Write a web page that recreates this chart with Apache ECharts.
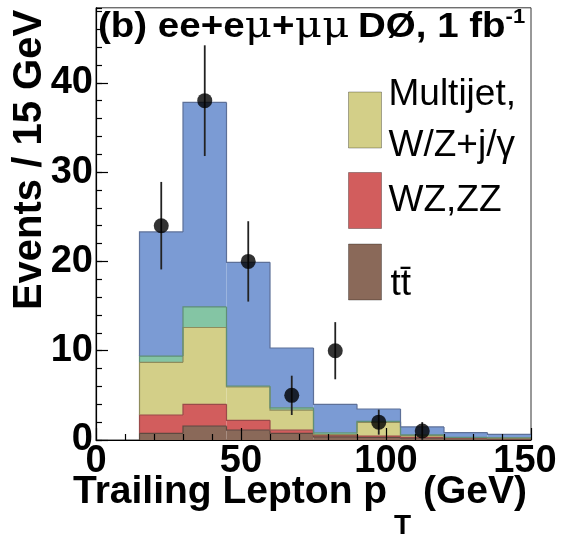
<!DOCTYPE html>
<html>
<head>
<meta charset="utf-8">
<script src="https://cdn.jsdelivr.net/npm/echarts@6/dist/echarts.min.js"></script>
<style>
  html, body { margin: 0; padding: 0; background: #fff; }
  #chart { width: 569px; height: 535px; }
</style>
</head>
<body>
<div id="chart"></div>
<script>
// Trailing lepton pT, ee+eμ+μμ combined, 15 GeV bins
const binEdges = [15, 30, 45, 60, 75, 90, 105, 120, 135, 150];

// Expected events per bin for each process, stacked bottom to top
const ttbar    = [0.75, 1.55, 1.10, 0.75, 0.35, 0.30, 0.20, 0.15, 0.10];
const wzzz     = [2.05, 2.45, 1.10, 0.35, 0.15, 0.15, 0.10, 0.05, 0.05];
const multijet = [5.90, 8.60, 3.75, 2.25, 0.10, 1.53, 0.20, 0.05, 0.05];
const zjets    = [0.70, 2.30, 0.10, 0.25, 0.20, 0.10, 0.07, 0.05, 0.05];
const ww       = [13.90, 22.90, 13.85, 6.70, 3.20, 1.39, 0.89, 0.52, 0.38];

// Observed events with their uncertainties
const dataX   = [22.5, 37.5, 52.5, 67.5, 82.5, 97.5, 112.5];
const dataN   = [24, 38, 20, 5, 10, 2, 1];
const dataErr = [4.9, 6.2, 4.5, 2.2, 3.2, 1.4, 1.0];

// Axis tick labels
const xTickLabels = [0, 50, 100, 150];
const yTickLabels = [0, 10, 20, 30, 40];

const FONT = 'Liberation Sans';

const layers = [
  { name: 't\u0074\u0304',          values: ttbar,    color: '#8a6959', edge: '#5e4a40' },
  { name: 'WZ,ZZ',                  values: wzzz,     color: '#d25d5d', edge: '#9a4a4a' },
  { name: 'Multijet, W/Z+j/\u03b3', values: multijet, color: '#d3cf88', edge: '#8f8c5c' },
  { name: 'Z/\u03b3*',              values: zjets,    color: '#84c5a4', edge: '#5f8f76' },
  { name: 'WW',                     values: ww,       color: '#7b9bd4', edge: '#5d7098' }
];

// Build stacked bin items: [x0, x1, bottom, top, top of same layer in previous bin]
let base = ww.map(() => 0);
layers.forEach(layer => {
  layer.items = layer.values.map((v, i) => {
    const lo = base[i];
    const hi = lo + v;
    const prev = i === 0 ? lo : base[i - 1] + layer.values[i - 1];
    return [binEdges[i], binEdges[i + 1], lo, hi, prev];
  });
  base = base.map((b, i) => b + layer.values[i]);
});

function histRenderer(color, edge) {
  return function (params, api) {
    const x0 = api.value(0), x1 = api.value(1);
    const lo = api.value(2), hi = api.value(3), prev = api.value(4);
    const bl = api.coord([x0, lo]);
    const tr = api.coord([x1, hi]);
    const pv = api.coord([x0, prev]);
    return {
      type: 'group',
      children: [
        {
          type: 'rect', z2: 0,
          shape: { x: bl[0], y: tr[1], width: tr[0] - bl[0], height: bl[1] - tr[1] },
          style: { fill: color }
        },
        {
          type: 'polyline', z2: 5,
          shape: { points: [pv, [bl[0], tr[1]], tr] },
          style: { stroke: edge, lineWidth: 1.2, fill: null }
        }
      ]
    };
  };
}

const histSeries = layers.map(layer => ({
  type: 'custom',
  name: layer.name,
  renderItem: histRenderer(layer.color, layer.edge),
  itemStyle: { color: layer.color },
  encode: { x: [0, 1], y: [2, 3] },
  data: layer.items,
  z: 2,
  silent: true
}));

const errorSeries = {
  type: 'custom',
  name: 'errors',
  z: 5,
  silent: true,
  encode: { x: 0, y: [1, 2] },
  data: dataX.map((x, i) => [x, dataN[i] - dataErr[i], dataN[i] + dataErr[i]]),
  renderItem: function (params, api) {
    const a = api.coord([api.value(0), api.value(1)]);
    const b = api.coord([api.value(0), api.value(2)]);
    return {
      type: 'line',
      shape: { x1: a[0], y1: a[1], x2: b[0], y2: b[1] },
      style: { stroke: '#222', lineWidth: 1.8 }
    };
  }
};

const pointSeries = {
  type: 'scatter',
  name: 'Data',
  z: 6,
  silent: true,
  symbol: 'circle',
  symbolSize: 15,
  itemStyle: { color: '#000' },
  data: dataX.map((x, i) => [x, dataN[i]])
};

const legendCommon = {
  orient: 'vertical',
  left: 348,
  padding: 0,
  icon: 'rect',
  itemWidth: 33,
  itemHeight: 56,
  selectedMode: false,
  itemStyle: { borderColor: 'rgba(0,0,0,0.3)', borderWidth: 1 },
  textStyle: { fontFamily: FONT, fontSize: 37, lineHeight: 51, color: '#000', padding: [0, 0, 0, 2] }
};

const yMax = 48.4;

const boldRich = { fontFamily: FONT, fontWeight: 'bold', fontSize: 35, lineHeight: 40, fill: '#000' };
const muRich = { fontFamily: 'DejaVu Serif', fontSize: 38, lineHeight: 40, width: 25, align: 'center', fill: '#000' };
const axisTitleFont = { fontFamily: FONT, fontWeight: 'bold', fontSize: 39, fill: '#000' };

const option = {
  animation: false,
  backgroundColor: '#fff',
  grid: {
    left: 96, right: 38, top: 7.8, bottom: 95,
    containLabel: false,
    outerBoundsMode: 'none',
    show: true, borderColor: '#333', borderWidth: 1, backgroundColor: 'transparent'
  },
  xAxis: {
    type: 'value',
    min: 0, max: 150, interval: 50,
    z: 10,
    axisLine: { lineStyle: { color: '#000', width: 1.2 } },
    axisTick: { inside: true, length: 12, lineStyle: { color: '#000', width: 1.2 } },
    minorTick: { show: true, splitNumber: 5, length: 6, lineStyle: { color: '#000', width: 1.2 } },
    splitLine: { show: false },
    axisLabel: {
      margin: 3,
      fontFamily: FONT, fontWeight: 'bold', fontSize: 38, lineHeight: 38, color: '#000',
      formatter: v => {
        if (!xTickLabels.includes(v)) return '';
        // the last label is pulled slightly inward
        return v === xTickLabels[xTickLabels.length - 1] ? '{r|' + v + '}' : String(v);
      },
      rich: {
        r: { fontFamily: FONT, fontWeight: 'bold', fontSize: 38, lineHeight: 38, color: '#000', padding: [0, 12, 0, 0] }
      }
    }
  },
  yAxis: [
    {
      type: 'value',
      position: 'left',
      min: 0, max: yMax, interval: 10,
      z: 10,
      axisLine: { show: true, lineStyle: { color: '#000', width: 1.2 } },
      axisTick: { show: true, inside: true, length: 12, lineStyle: { color: '#000', width: 1.2 } },
      splitLine: { show: false },
      axisLabel: {
        margin: 3,
        showMaxLabel: false,
        padding: [8, 0, 0, 0],
        fontFamily: FONT, fontWeight: 'bold', fontSize: 38, lineHeight: 38, color: '#000',
        formatter: v => (yTickLabels.includes(v) ? String(v) : '')
      }
    },
    {
      type: 'value',
      position: 'left',
      min: 0, max: yMax, interval: 2,
      z: 10,
      axisLine: { show: false },
      axisTick: { show: true, inside: true, length: 6, lineStyle: { color: '#000', width: 1.2 } },
      axisLabel: { show: false },
      splitLine: { show: false }
    }
  ],
  legend: [
    Object.assign({}, legendCommon, {
      top: 69,
      data: [layers[2].name],
      formatter: name => name.replace(', ', ',\n')
    }),
    Object.assign({}, legendCommon, {
      top: 172,
      data: [layers[1].name]
    }),
    Object.assign({}, legendCommon, {
      top: 240.5,
      data: [layers[0].name],
      formatter: name => '{t|' + name + '}',
      textStyle: Object.assign({}, legendCommon.textStyle, {
        rich: { t: { fontFamily: FONT, fontSize: 37, lineHeight: 51, color: '#000', padding: [26, 0, 0, 2] } }
      })
    })
  ],
  graphic: [
    // panel title
    {
      type: 'text',
      x: 98, y: 27,
      scaleX: 1.1,
      z: 20,
      style: {
        text: '{b|(b) ee+e}{m|\u03bc}{b|+}{m|\u03bc}{m|\u03bc}',
        align: 'left',
        verticalAlign: 'middle',
        fill: '#000',
        rich: { b: boldRich, m: muRich }
      }
    },
    {
      type: 'text',
      x: 358, y: 27,
      scaleX: 1.1,
      z: 20,
      style: {
        text: '{b|D\u00d8, 1 fb}{s|-1}',
        align: 'left',
        verticalAlign: 'middle',
        fill: '#000',
        rich: {
          b: boldRich,
          s: { fontFamily: FONT, fontWeight: 'bold', fontSize: 20, lineHeight: 22, fill: '#000', verticalAlign: 'top' }
        }
      }
    },
    // y axis title
    {
      type: 'text',
      x: 30, y: 160,
      rotation: Math.PI / 2,
      z: 20,
      style: Object.assign({ text: 'Events / 15 GeV', align: 'center', verticalAlign: 'middle' }, axisTitleFont, { fontSize: 40 })
    },
    // x axis title: main text, subscript, units
    {
      type: 'text',
      x: 73, y: 492,
      z: 20,
      style: Object.assign({ text: 'Trailing Lepton p', align: 'left', verticalAlign: 'middle' }, axisTitleFont)
    },
    {
      type: 'text',
      x: 394, y: 526,
      z: 20,
      style: Object.assign({ text: 'T', align: 'left', verticalAlign: 'middle' }, axisTitleFont, { fontSize: 28 })
    },
    {
      type: 'text',
      x: 527, y: 492,
      z: 20,
      style: Object.assign({ text: '(GeV)', align: 'right', verticalAlign: 'middle' }, axisTitleFont)
    }
  ],
  series: histSeries.concat([errorSeries, pointSeries])
};

const chart = echarts.init(document.getElementById('chart'), null, { renderer: 'canvas' });
chart.setOption(option);
</script>
</body>
</html>
